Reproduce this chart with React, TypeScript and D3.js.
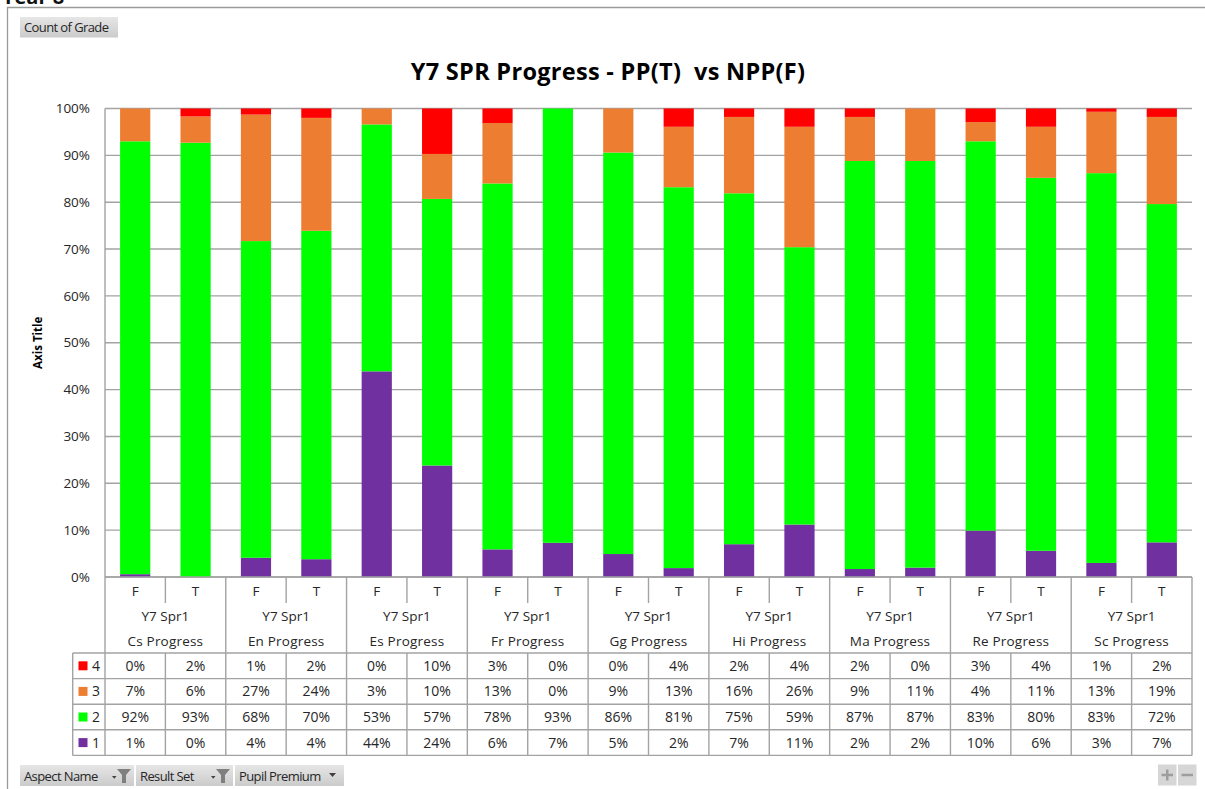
import * as d3 from 'd3';

// subjects are paired: F (non pupil premium) then T (pupil premium)
const subjects = ['Cs', 'En', 'Es', 'Fr', 'Gg', 'Hi', 'Ma', 'Re', 'Sc'];
const flags = ['F', 'T'];
const resultSet = 'Y7 Spr1';

// share of pupils per grade, in %, one value per subject/flag bar
const grade1 = [0.6, 0, 4.1, 3.8, 43.9, 23.8, 5.9, 7.3, 4.9, 1.9, 7.0, 11.2, 1.7, 2.0, 9.9, 5.6, 3.0, 7.4];
const grade2 = [92.4, 92.7, 67.6, 70.1, 52.7, 56.9, 78.1, 92.7, 85.7, 81.3, 74.9, 59.2, 87.1, 86.8, 83.1, 79.6, 83.2, 72.2];
const grade3 = [7.0, 5.6, 27.0, 24.1, 3.4, 9.6, 12.9, 0, 9.4, 12.9, 16.3, 25.7, 9.4, 11.2, 4.1, 10.9, 13.1, 18.6];
const grade4 = [0, 1.7, 1.3, 2.0, 0, 9.7, 3.1, 0, 0, 3.9, 1.8, 3.9, 1.8, 0, 2.9, 3.9, 0.7, 1.8];

const gradeKeys = ['1', '2', '3', '4'];
const gradeColors: Record<string, string> = {
  '1': '#7030A0',
  '2': '#00FF00',
  '3': '#ED7D31',
  '4': '#FF0000',
};
const yTicks = [0, 10, 20, 30, 40, 50, 60, 70, 80, 90, 100];

const FONT = '"Open Sans", "Noto Sans", sans-serif';
const LINE = '#a3a3a3';
const TEXT = '#262626';

export default function App() {
  const width = 1205;
  const height = 789;
  const left = 105;
  const right = 1192;
  const top = 108.5;
  const bottom = 577;

  const bars = subjects.flatMap((s) => flags.map((f) => `${s}-${f}`));
  const rows = bars.map((key, i) => ({
    key,
    '1': grade1[i],
    '2': grade2[i],
    '3': grade3[i],
    '4': grade4[i],
  }));

  const x = d3.scaleBand<string>().domain(bars).range([left, right]).paddingInner(0.5).paddingOuter(0.25);
  const step = x.step();
  const y = d3.scaleLinear().domain([0, 100]).range([bottom, top]);

  const series = d3.stack<any>().keys(gradeKeys)(rows);

  // table geometry
  const tableLeft = 72.7;
  const rowH = 25.6;
  const tableTop = 653;
  const tableRows = [
    { label: '4', values: grade4 },
    { label: '3', values: grade3 },
    { label: '2', values: grade2 },
    { label: '1', values: grade1 },
  ];
  const tableBottom = tableTop + rowH * tableRows.length;

  const funnel = (cx: number, cy: number) => (
    <g>
      <path d={`M${cx - 11},${cy} h4.5 l-2.25,2.8 z`} fill="#404040" />
      <path d={`M${cx - 6},${cy - 7} h14 l-5,6 v8 h-4 v-8 z`} fill="#7f7f7f" />
    </g>
  );

  return (
    <svg
      width={width}
      height={height}
      style={{ position: 'absolute', left: 0, top: 0, background: '#fff' }}
      fontFamily={FONT}
    >
      <defs>
        <linearGradient id="btn" x1="0" y1="0" x2="0" y2="1">
          <stop offset="0" stopColor="#e6e6e6" />
          <stop offset="1" stopColor="#cbcbcb" />
        </linearGradient>
      </defs>

      <text x={2} y={4} fontSize={20} fontWeight={700} fill="#111">Year 8</text>
      <path d={`M7.5,${height + 5} V7.5 H${width + 5}`} fill="none" stroke="#9a9a9a" strokeWidth={1.3} />

      <rect x={20} y={17} width={98} height={20.5} fill="url(#btn)" />
      <text x={24} y={32} fontSize={13} fill={TEXT} letterSpacing={-0.6}>Count of Grade</text>

      <text x={608} y={80} textAnchor="middle" fontSize={23.5} fontWeight={700} fill="#000" letterSpacing={0.3}>
        Y7 SPR Progress - PP(T)&#160;&#160;vs NPP(F)
      </text>

      <text
        transform={`translate(42,${(top + bottom) / 2}) rotate(-90)`}
        textAnchor="middle"
        fontSize={11.5}
        fontWeight={700}
        fill="#000"
      >
        Axis Title
      </text>

      {yTicks.map((t) => (
        <g key={t}>
          <line x1={left} x2={right} y1={y(t)} y2={y(t)} stroke={LINE} strokeWidth={1.4} />
          <text x={90} y={y(t)} dy="0.35em" textAnchor="end" fontSize={13.5} fill={TEXT}>
            {`${t}%`}
          </text>
        </g>
      ))}
      <line x1={left} x2={left} y1={top} y2={bottom} stroke={LINE} strokeWidth={1.4} />

      {series.map((s) => (
        <g key={s.key} fill={gradeColors[s.key]}>
          {s.map((d) => {
            const h = y(d[0]) - y(d[1]);
            if (h <= 0) return null;
            return (
              <rect
                key={d.data.key}
                x={x(d.data.key)}
                y={y(d[1])}
                width={x.bandwidth()}
                height={h}
              />
            );
          })}
        </g>
      ))}

      {/* category axis labels */}
      {bars.map((b, i) => (
        <text
          key={b}
          x={(x(b) ?? 0) + x.bandwidth() / 2}
          y={591.5}
          dy="0.35em"
          textAnchor="middle"
          fontSize={13.5}
          fill={TEXT}
        >
          {flags[i % 2]}
        </text>
      ))}
      {subjects.map((s, g) => {
        const cx = left + step * (2 * g + 1);
        return (
          <g key={s}>
            <text x={cx} y={616} dy="0.35em" textAnchor="middle" fontSize={13.5} fill={TEXT}>
              {resultSet}
            </text>
            <text x={cx} y={641.5} dy="0.35em" textAnchor="middle" fontSize={13.5} fill={TEXT} letterSpacing={0.2}>
              {`${s} Progress`}
            </text>
          </g>
        );
      })}

      {/* grid of the data table */}
      {d3.range(subjects.length + 1).map((g) => (
        <line
          key={`g${g}`}
          x1={left + 2 * g * step}
          x2={left + 2 * g * step}
          y1={bottom}
          y2={tableBottom}
          stroke={LINE}
          strokeWidth={1.4}
        />
      ))}
      {subjects.map((s, g) => {
        const xm = left + (2 * g + 1) * step;
        return (
          <g key={`m${s}`} stroke={LINE} strokeWidth={1.4}>
            <line x1={xm} x2={xm} y1={bottom} y2={603} />
            <line x1={xm} x2={xm} y1={tableTop} y2={tableBottom} />
          </g>
        );
      })}
      {d3.range(tableRows.length + 1).map((r) => (
        <line
          key={`r${r}`}
          x1={tableLeft}
          x2={right}
          y1={tableTop + r * rowH}
          y2={tableTop + r * rowH}
          stroke={LINE}
          strokeWidth={1.4}
        />
      ))}
      <line x1={tableLeft} x2={tableLeft} y1={tableTop} y2={tableBottom} stroke={LINE} strokeWidth={1.4} />
      <line x1={left} x2={right} y1={bottom} y2={bottom} stroke={LINE} strokeWidth={1.4} />

      {tableRows.map((row, r) => {
        const cy = tableTop + r * rowH + rowH / 2;
        return (
          <g key={row.label}>
            <rect x={78.5} y={cy - 4.5} width={9} height={9} fill={gradeColors[row.label]} />
            <text x={92} y={cy} dy="0.35em" fontSize={14} fill={TEXT}>
              {row.label}
            </text>
            {row.values.map((v, i) => (
              <text
                key={i}
                x={(x(bars[i]) ?? 0) + x.bandwidth() / 2}
                y={cy}
                dy="0.35em"
                textAnchor="middle"
                fontSize={14}
                fill={TEXT}
              >
                {`${Math.round(v)}%`}
              </text>
            ))}
          </g>
        );
      })}

      {/* pivot field buttons */}
      <rect x={20} y={765} width={114} height={21} fill="url(#btn)" />
      <text x={24} y={780.5} fontSize={13} fill={TEXT} letterSpacing={-0.6}>Aspect Name</text>
      {funnel(123, 776)}
      <rect x={136} y={765} width={97} height={21} fill="url(#btn)" />
      <text x={140} y={780.5} fontSize={13} fill={TEXT} letterSpacing={-0.6}>Result Set</text>
      {funnel(222, 776)}
      <rect x={235} y={765} width={109} height={21} fill="url(#btn)" />
      <text x={239} y={780.5} fontSize={13} fill={TEXT} letterSpacing={-0.6}>Pupil Premium</text>
      <path d="M329,773 h7 l-3.5,4 z" fill="#404040" />

      <rect x={1158} y={764.5} width={18.5} height={21} fill="#d6d6d6" />
      <rect x={1178} y={764.5} width={18.5} height={21} fill="#d6d6d6" />
      <path d="M1161.5,775 h11.5 M1167.25,769.5 v11" stroke="#9d9d9d" strokeWidth={2.5} />
      <path d="M1181.5,775 h11.5" stroke="#9d9d9d" strokeWidth={2.5} />
    </svg>
  );
}
